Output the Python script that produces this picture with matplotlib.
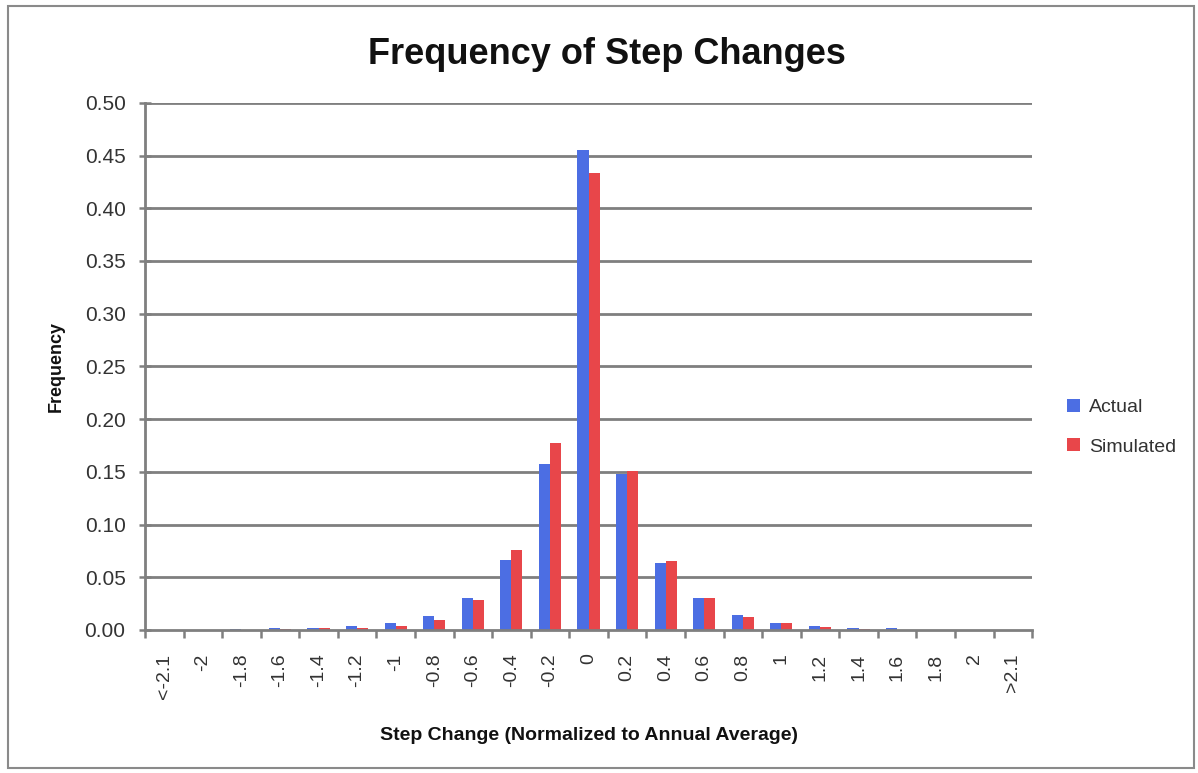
import numpy as np
import matplotlib.pyplot as plt
from matplotlib.patches import Rectangle
from matplotlib import rcParams
rcParams['font.family'] = 'sans-serif'
rcParams['font.sans-serif'] = ['Liberation Sans', 'DejaVu Sans']

# data
categories = ['<-2.1', '-2', '-1.8', '-1.6', '-1.4', '-1.2', '-1', '-0.8', '-0.6', '-0.4', '-0.2', '0',
              '0.2', '0.4', '0.6', '0.8', '1', '1.2', '1.4', '1.6', '1.8', '2', '>2.1']
actual = [0.0, 0.0003, 0.0005, 0.002, 0.002, 0.0035, 0.0065, 0.013, 0.030, 0.066, 0.157, 0.455,
          0.148, 0.064, 0.030, 0.0145, 0.0065, 0.0035, 0.0018, 0.0016, 0.0004, 0.0002, 0.0]
simulated = [0.0, 0.0002, 0.0003, 0.0006, 0.0018, 0.0022, 0.0042, 0.0095, 0.028, 0.076, 0.177, 0.433,
             0.151, 0.065, 0.030, 0.0125, 0.0065, 0.003, 0.0014, 0.0004, 0.0002, 0.0001, 0.0]
yticks = np.arange(0, 0.501, 0.05)

blue = '#4c6ee3'
red = '#e8464a'
grid_c = '#7f7f7f'
text_c = '#333333'

fig = plt.figure(figsize=(11.98, 7.73), dpi=100)
ax = fig.add_axes([0.121, 0.185, 0.7405, 0.682])

x = np.arange(len(categories))
w = 0.286
ax.bar(x - w/2, actual, w, color=blue, label='Actual', zorder=3)
ax.bar(x + w/2, simulated, w, color=red, label='Simulated', zorder=3)

ax.set_xlim(-0.5, len(categories) - 0.5)
ax.set_ylim(0, 0.5)
ax.set_yticks(yticks)
ax.set_yticklabels(['%.2f' % v for v in yticks], fontsize=15, color=text_c)
ax.set_xticks(x)
ax.set_xticklabels(categories, rotation=90, fontsize=14, color=text_c)
ax.set_xticks(np.arange(-0.5, len(categories)), minor=True)
ax.tick_params(axis='x', which='major', length=0, pad=17)
ax.tick_params(axis='x', which='minor', length=6, width=1.8, color=grid_c, direction='out')
ax.tick_params(axis='y', length=8, width=1.8, color=grid_c, direction='inout', pad=10)

for y in yticks[1:]:
    ax.axhline(y, color=grid_c, lw=2, zorder=1)
for s in ['top', 'right']:
    ax.spines[s].set_visible(False)
for s in ['left', 'bottom']:
    ax.spines[s].set_color(grid_c)
    ax.spines[s].set_linewidth(2)
    ax.spines[s].set_zorder(4)

fig.text(0.507, 0.929, 'Frequency of Step Changes', ha='center', va='center',
         fontsize=26, fontweight='bold', color='#111111')
ax.set_xlabel('Step Change (Normalized to Annual Average)', fontsize=14, fontweight='bold',
              color='#111111', labelpad=20)
ax.set_ylabel('Frequency', fontsize=13, fontweight='bold', color='#111111', labelpad=14)

ax.legend(loc='center left', bbox_to_anchor=(1.02, 0.385), frameon=False, fontsize=14,
          handlelength=0.65, handleheight=0.65, handletextpad=0.45, labelspacing=1.15,
          labelcolor=text_c)

fig.patches.append(Rectangle((0.007, 0.007), 0.99, 0.985, transform=fig.transFigure,
                             fill=False, edgecolor='#8a8a8a', lw=1.5))

fig.savefig('out.png', dpi=100)
